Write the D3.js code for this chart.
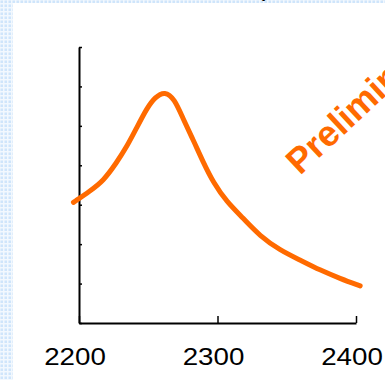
<!DOCTYPE html>
<html>
<head>
<meta charset="utf-8">
<script src="https://cdn.jsdelivr.net/npm/d3@7"></script>
<style>
  html, body { margin: 0; padding: 0; background: #fff; }
  svg { display: block; }
</style>
</head>
<body>
<div id="chart"></div>
<script>
// Spectrum trace (wavelength vs. intensity, arbitrary units)
const wavelengths = [2196, 2208, 2217.5, 2227, 2234.5, 2241.5, 2249, 2255, 2262, 2269, 2275, 2282.5,
                     2289.5, 2297, 2306.5, 2318.5, 2330.5, 2345, 2359.5, 2374, 2388.5, 2403];
const intensity   = [3.06, 3.35, 3.60, 4.06, 4.47, 4.94, 5.45, 5.73, 5.88, 5.68, 5.19, 4.64,
                     4.09, 3.56, 3.08, 2.66, 2.21, 1.85, 1.60, 1.34, 1.13, 0.94];
const xTicks = [2200, 2300, 2400];
const yTicks = [0, 1, 2, 3, 4, 5, 6, 7];
const stampText = "Preliminary";

const W = 385, H = 380;
const FONT = "Liberation Sans, Arial, sans-serif";
const svg = d3.select("#chart").append("svg").attr("width", W).attr("height", H);

// dotted slide border along the left and top edges
const defs = svg.append("defs");
const pat = defs.append("pattern").attr("id", "dots")
  .attr("width", 4).attr("height", 4).attr("patternUnits", "userSpaceOnUse");
pat.append("rect").attr("width", 4).attr("height", 4).attr("fill", "#f2f8fe");
pat.append("rect").attr("x", 0.5).attr("y", 0.5).attr("width", 2.5).attr("height", 2.5).attr("fill", "#cfe5fb");
svg.append("rect").attr("x", 0).attr("y", 0).attr("width", 13).attr("height", H).attr("fill", "url(#dots)");
svg.append("rect").attr("x", 0).attr("y", 0).attr("width", W).attr("height", 3).attr("fill", "url(#dots)");

const x = d3.scaleLinear().domain([2200, 2400]).range([79, 356]);
const y = d3.scaleLinear().domain([0, 7]).range([323, 47]);

// heading above the plot, only its lowest stroke shows at the top edge
svg.append("text").attr("transform", "translate(256,-4) scale(1.18,1)")
  .attr("font-family", FONT).attr("font-size", 24)
  .attr("fill", "#000").text("(");

// x axis: baseline with upward ticks, labels set well below
const xAxis = d3.axisBottom(x).tickValues(xTicks).tickSizeInner(-7).tickSizeOuter(0).tickFormat("");
const gx = svg.append("g").attr("transform", `translate(0,${y(0)})`).call(xAxis);
gx.select(".domain").attr("stroke", "#000").attr("stroke-width", 2);
gx.selectAll(".tick line").attr("stroke", "#000").attr("stroke-width", 1.5);

svg.append("g").selectAll("text").data(xTicks).join("text")
  .attr("transform", d => `translate(${x(d) - 4},365) scale(1.18,1)`)
  .attr("text-anchor", "middle")
  .attr("font-family", FONT).attr("font-size", 23.5)
  .attr("fill", "#000").text(d => d);

// y axis: vertical line with short inward ticks
const yAxis = d3.axisLeft(y).tickValues(yTicks).tickSizeInner(-3).tickSizeOuter(0).tickFormat("");
const gy = svg.append("g").attr("transform", `translate(${x(2200)},0)`).call(yAxis);
gy.select(".domain").attr("stroke", "#000").attr("stroke-width", 2);
gy.selectAll(".tick line").attr("stroke", "#000").attr("stroke-width", 1.5);

// spectrum line
const pts = wavelengths.map((w, i) => [w, intensity[i]]);
const line = d3.line().x(d => x(d[0])).y(d => y(d[1])).curve(d3.curveBasis);
svg.append("path").datum(pts).attr("d", line)
  .attr("fill", "none").attr("stroke", "#ff6a00").attr("stroke-width", 5)
  .attr("stroke-linecap", "round").attr("stroke-linejoin", "round");

// diagonal stamp
svg.append("text")
  .attr("transform", "translate(300,176) rotate(-43)")
  .attr("font-family", FONT).attr("font-size", 36)
  .attr("font-weight", "bold").attr("fill", "#ff6a00").text(stampText);
</script>
</body>
</html>
